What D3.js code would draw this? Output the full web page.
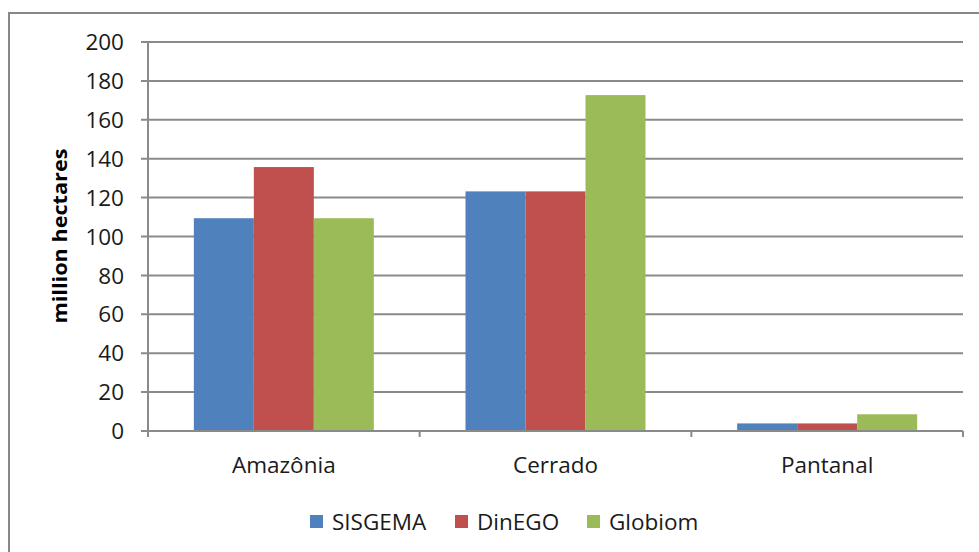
<!DOCTYPE html>
<html>
<head>
<meta charset="utf-8">
<script src="https://cdn.jsdelivr.net/npm/d3@7"></script>
<style>
  html, body { margin: 0; padding: 0; background: #fff; }
  svg { display: block; font-family: "Open Sans", Lato, sans-serif; }
</style>
</head>
<body>
<svg id="chart" width="979" height="552"></svg>
<script>
// Biome areas (million hectares) by data source
const categories = ["Amazônia", "Cerrado", "Pantanal"];
const seriesNames = ["SISGEMA", "DinEGO", "Globiom"];
const sisgema = [109.4, 123.2, 3.9];
const dinego = [135.7, 123.2, 3.9];
const globiom = [109.4, 172.7, 8.6];
const yTicks = [0, 20, 40, 60, 80, 100, 120, 140, 160, 180, 200];
const colors = ["#4F81BD", "#C0504D", "#9BBB59"];

const seriesValues = [sisgema, dinego, globiom];
const rows = categories.map((c, i) => ({
  category: c,
  values: seriesNames.map((s, j) => ({ series: s, value: seriesValues[j][i], color: colors[j] }))
}));

const svg = d3.select("#chart");
const plotLeft = 148, plotRight = 963, plotTop = 42, plotBottom = 431;
const textColor = "#1a1a1a";
const labelSize = 22.5;

// outer chart frame
svg.append("rect")
  .attr("x", 9).attr("y", 13)
  .attr("width", 1000).attr("height", 600)
  .attr("fill", "none").attr("stroke", "#878787").attr("stroke-width", 2);

const x = d3.scaleBand().domain(categories).range([plotLeft, plotRight]).paddingInner(0).paddingOuter(0);
const xInner = d3.scaleBand().domain(seriesNames).range([0, x.bandwidth()]).paddingInner(0).paddingOuter(0.764);
const y = d3.scaleLinear().domain([0, 200]).range([plotBottom, plotTop]);

// horizontal gridlines with left tick stubs
svg.append("g")
  .selectAll("line")
  .data(yTicks)
  .join("line")
  .attr("x1", plotLeft - 7).attr("x2", plotRight)
  .attr("y1", d => y(d)).attr("y2", d => y(d))
  .attr("stroke", "#8a8a8a").attr("stroke-width", 2);

// bars
const groups = svg.append("g")
  .selectAll("g")
  .data(rows)
  .join("g")
  .attr("transform", d => `translate(${x(d.category)},0)`);

groups.selectAll("rect")
  .data(d => d.values)
  .join("rect")
  .attr("x", d => xInner(d.series))
  .attr("width", xInner.bandwidth())
  .attr("y", d => y(d.value))
  .attr("height", d => y(0) - y(d.value))
  .attr("fill", d => d.color);

// y axis line
svg.append("line")
  .attr("x1", plotLeft).attr("x2", plotLeft)
  .attr("y1", plotTop).attr("y2", plotBottom + 5)
  .attr("stroke", "#8a8a8a").attr("stroke-width", 2);

// x axis line and category ticks
svg.append("line")
  .attr("x1", plotLeft - 7).attr("x2", plotRight)
  .attr("y1", plotBottom).attr("y2", plotBottom)
  .attr("stroke", "#8a8a8a").attr("stroke-width", 2);

const boundaries = categories.map(c => x(c)).concat([plotRight]);
svg.append("g")
  .selectAll("line")
  .data(boundaries)
  .join("line")
  .attr("x1", d => d).attr("x2", d => d)
  .attr("y1", plotBottom).attr("y2", plotBottom + 6)
  .attr("stroke", "#8a8a8a").attr("stroke-width", 2);

// y tick labels
svg.append("g")
  .selectAll("text")
  .data(yTicks)
  .join("text")
  .attr("x", 124)
  .attr("y", d => y(d))
  .attr("dy", "0.36em")
  .attr("text-anchor", "end")
  .attr("font-size", labelSize)
  .attr("fill", textColor)
  .text(d => d);

// category labels
svg.append("g")
  .selectAll("text")
  .data(categories)
  .join("text")
  .attr("x", d => x(d) + x.bandwidth() / 2)
  .attr("y", 473)
  .attr("text-anchor", "middle")
  .attr("font-size", labelSize)
  .attr("fill", textColor)
  .text(d => d);

// y axis title
svg.append("text")
  .attr("transform", "translate(67,236) rotate(-90)")
  .attr("text-anchor", "middle")
  .attr("font-size", 20)
  .attr("font-weight", "bold")
  .attr("textLength", 175)
  .attr("lengthAdjust", "spacingAndGlyphs")
  .attr("fill", "#000")
  .text("million hectares");

// legend
const legendX = [310, 455, 587];
const legend = svg.append("g")
  .selectAll("g")
  .data(seriesNames)
  .join("g")
  .attr("transform", (d, i) => `translate(${legendX[i]},522)`);
legend.append("rect")
  .attr("x", 0).attr("y", -7)
  .attr("width", 13).attr("height", 13)
  .attr("fill", (d, i) => colors[i]);
legend.append("text")
  .attr("x", 22).attr("y", 0)
  .attr("dy", "0.36em")
  .attr("font-size", labelSize)
  .attr("fill", textColor)
  .text(d => d);
</script>
</body>
</html>
